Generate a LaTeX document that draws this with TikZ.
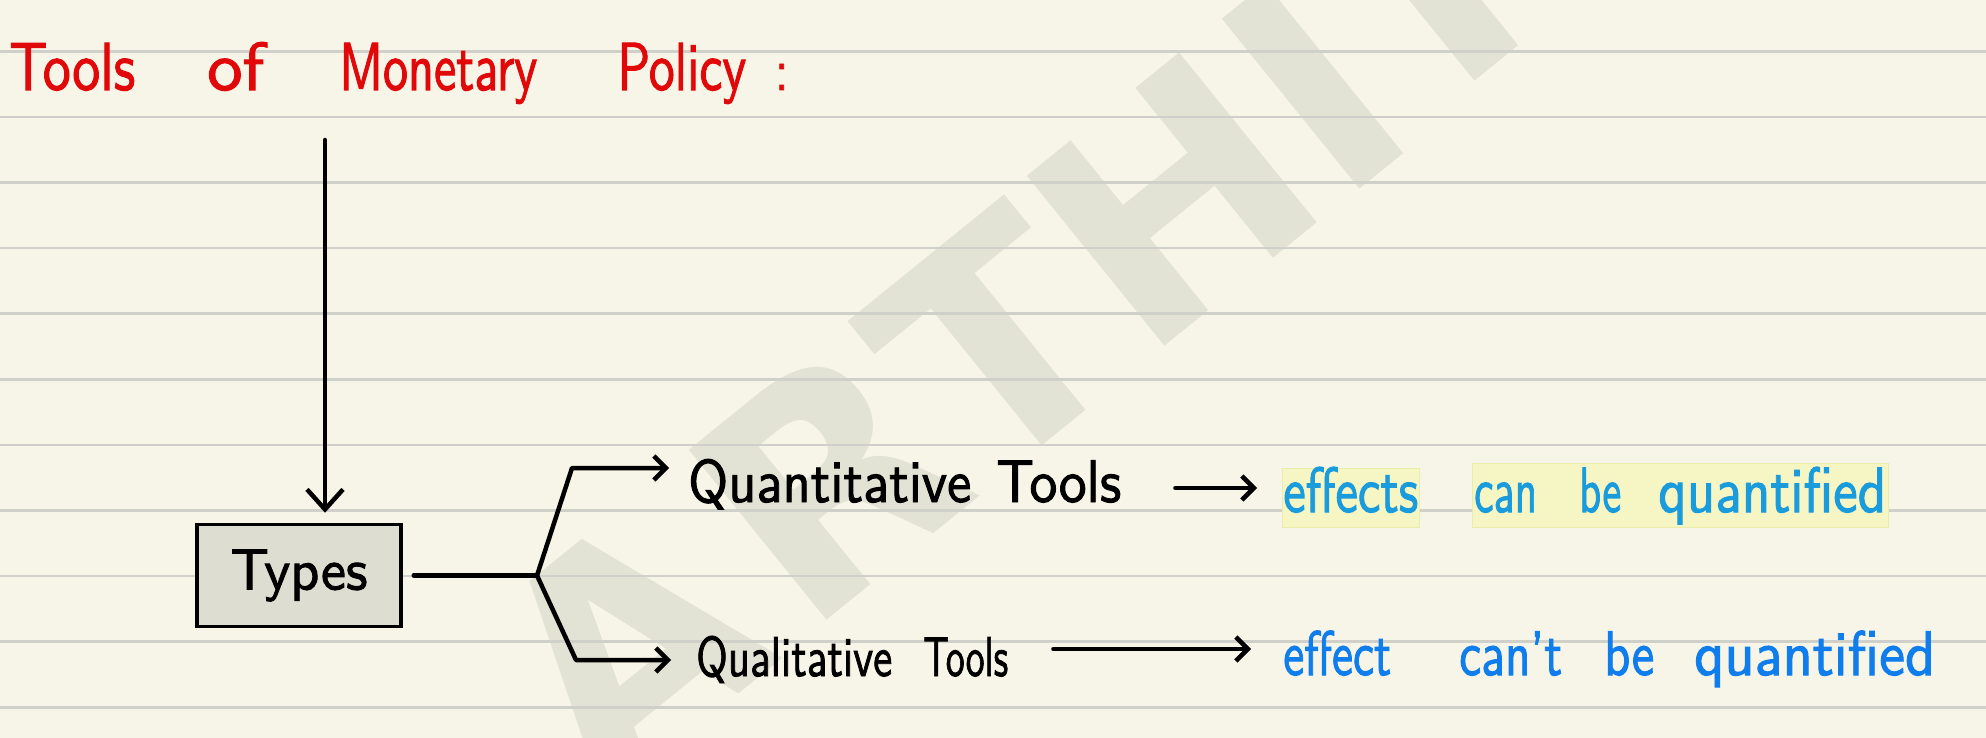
\documentclass[tikz,border=0pt]{standalone}
\usepackage{fontspec}
\usetikzlibrary{arrows.meta,calc}
\newfontfamily\markfont{DejaVu Sans}
\newfontfamily\hand{lmsans10-regular.otf}[FakeBold=1.6]
\definecolor{paper}{RGB}{246,245,231}
\definecolor{ruling}{RGB}{208,208,203}
\definecolor{markgray}{RGB}{226,226,213}
\definecolor{redink}{RGB}{225,8,10}
\definecolor{bluea}{RGB}{25,155,220}
\definecolor{blueb}{RGB}{15,125,235}
\definecolor{hilite}{RGB}{246,245,196}
\definecolor{hiliteedge}{RGB}{236,236,170}
\definecolor{boxfill}{RGB}{221,221,210}
% stretch a word horizontally to a given width (pt), keeping its height
\newcommand\fitw[2]{\resizebox{#1pt}{\height}{#2}}
\begin{document}
\begin{tikzpicture}[x=1pt,y=-1pt,
  txt/.style={inner sep=0pt, anchor=base west},
  conn/.style={draw=black, line width=4.5pt, line cap=round, line join=round},
  bigtip/.style={-{Straight Barb[length=20pt,width=36pt]}},
  smalltip/.style={-{Straight Barb[length=12pt,width=24pt]}},
  wm/.style={text=markgray, inner sep=0pt, rotate=39,
    font=\markfont\bfseries\fontsize{300}{300}\selectfont}]
\useasboundingbox (0,0) rectangle (1986,738);
\fill[paper] (0,0) rectangle (1986,738);

% watermark lettering
\begin{scope}
  \clip (0,0) rectangle (1986,738);
  \node[wm] (wmA) at (625,645) {A};
  \node[wm] (wmR) at (826,480) {R};
  \node[wm] (wmT) at (995,343) {T};
  \node[wm] (wmH) at (1172,200) {H};
  \node[wm] (wmI) at (1313,86) {I};
  \node[wm] (wmK) at (1475,-60) {K};
\end{scope}

% ruled paper
\foreach \k in {0,...,10}
  \draw[ruling, line width=2.5pt] (0,{51.3+65.6*\k}) -- (1986,{51.3+65.6*\k});

% heading
\node[txt, text=redink, font=\hand\fontsize{68}{80}\selectfont] (title) at (9,90)
  {\fitw{126}{Tools}\hspace{72pt}\fitw{57}{of}\hspace{75pt}\fitw{198}{Monetary}\hspace{80pt}\fitw{129}{Policy}\hspace{29pt}\resizebox{13pt}{26pt}{:}};

% box
\node[draw=black, line width=3.5pt, fill=boxfill, minimum width=204pt, minimum height=102pt,
  inner sep=0pt, font=\hand\fontsize{58}{60}\selectfont] (types) at (299,575.5) {\fitw{137}{Types}};

\coordinate (drop) at (325,140);
\draw[conn, bigtip, shorten >=10pt] (drop) -- (drop |- types.north);

% fork to the two kinds
\coordinate (fork) at (537,575.5);
\coordinate (upbend) at (572,468);
\coordinate (uptip) at (669,468);
\coordinate (downbend) at (576,660);
\coordinate (downtip) at (671,660);
\draw[conn] ([xshift=11pt]types.east) -- (fork);
\draw[conn, smalltip] (fork) -- (upbend) -- (uptip);
\draw[conn, smalltip] (fork) -- (downbend) -- (downtip);

\node[txt, font=\hand\fontsize{60}{60}\selectfont] (quant) at (688,502)
  {\fitw{283}{Quantitative}\hspace{25pt}\fitw{125}{Tools}};
\node[txt, font=\hand\fontsize{56}{60}\selectfont] (qual) at (696,676)
  {\fitw{196}{Qualitative}\hspace{31pt}\fitw{85}{Tools}};

% highlighter marks
\filldraw[fill=hilite, draw=hiliteedge, line width=0.8pt] (1282,468) rectangle (1419,527);
\filldraw[fill=hilite, draw=hiliteedge, line width=0.8pt] (1472,463) rectangle (1888,527);

\node[txt, text=bluea, font=\hand\fontsize{64}{60}\selectfont] (effa) at (1283,512)
  {\fitw{135}{effects}\hspace{56pt}\fitw{63}{can}\hspace{42pt}\fitw{42}{be}\hspace{37pt}\fitw{228}{quantified}};
\node[txt, text=blueb, font=\hand\fontsize{63}{60}\selectfont] (effb) at (1283,675)
  {\fitw{108}{effect}\hspace{68pt}\fitw{103}{can’t}\hspace{42pt}\fitw{50}{be}\hspace{40pt}\fitw{241}{quantified}};

\draw[conn, smalltip] ($(quant.base east)+(54,-14)$) -- ($(effa.base west)+(-26,-24)$);
\draw[conn, smalltip] ($(qual.base east)+(45,-27)$) -- ($(effb.base west)+(-32,-26)$);
\end{tikzpicture}
\end{document}
